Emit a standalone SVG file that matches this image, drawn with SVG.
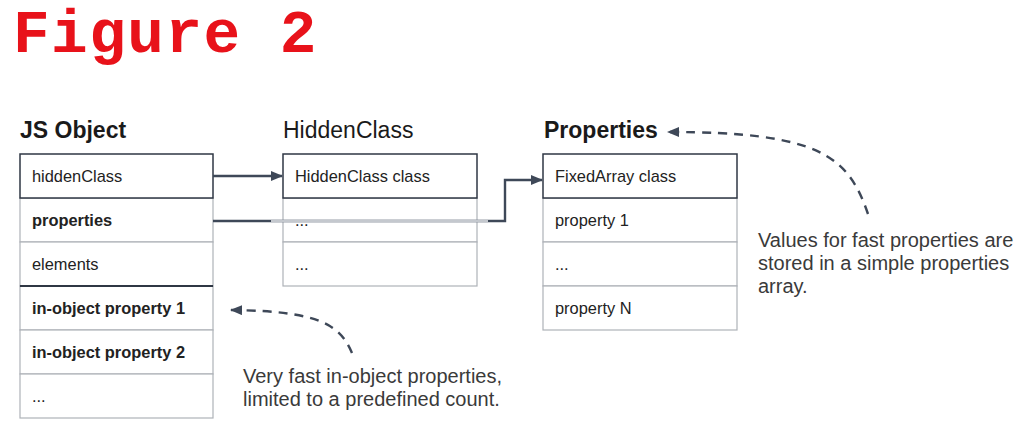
<svg xmlns="http://www.w3.org/2000/svg" width="1034" height="430" viewBox="0 0 1034 430">
<style>
.title{font-family:"Liberation Mono","Courier New",monospace;font-weight:bold;font-size:61px;letter-spacing:1.5px;fill:#e8121a}
.head{font-family:"Liberation Sans",Arial,sans-serif;font-size:23px;fill:#1a1a1a}
.b{font-weight:bold}
.cell{font-family:"Liberation Sans",Arial,sans-serif;font-size:16.4px;fill:#222}
.note{font-family:"Liberation Sans",Arial,sans-serif;font-size:20px;fill:#3a3a3a}
.lt{fill:#fff;stroke:#aeb2b8;stroke-width:1.2}
.dk{fill:#fff;stroke:#2f3744;stroke-width:1.5}
.dkl{stroke:#2f3744;stroke-width:1.8}
.conn{fill:none;stroke:#3e4858;stroke-width:2.4}
.dash{fill:none;stroke:#3e4858;stroke-width:2.4;stroke-dasharray:9 7}
</style>
<defs>
<marker id="ah" viewBox="0 0 12 10" refX="11" refY="5" markerWidth="12" markerHeight="10" markerUnits="userSpaceOnUse" orient="auto">
<path d="M0,0 L12,5 L0,10 Z" fill="#3e4858"/>
</marker>
</defs>
<rect width="1034" height="430" fill="#fff"/>
<text class="title" x="13" y="52">Figure 2</text>

<g id="js-object">
<text class="head b" x="20" y="138">JS Object</text>
<rect class="lt" x="20" y="198" width="193" height="44"/>
<rect class="lt" x="20" y="242" width="193" height="44"/>
<rect class="lt" x="20" y="286" width="193" height="44"/>
<rect class="lt" x="20" y="330" width="193" height="44"/>
<rect class="lt" x="20" y="374" width="193" height="44"/>
<line class="dkl" x1="20" y1="286" x2="213" y2="286"/>
<rect class="dk" x="20" y="154" width="193" height="44"/>
<text class="cell" x="32" y="182">hiddenClass</text>
<text class="cell b" x="32" y="226">properties</text>
<text class="cell" x="32" y="270">elements</text>
<text class="cell b" x="32" y="314">in-object property 1</text>
<text class="cell b" x="32" y="358">in-object property 2</text>
<text class="cell" x="32" y="402">...</text>
</g>

<g id="hidden-class">
<text class="head" x="283" y="138">HiddenClass</text>
<rect class="lt" x="283" y="198" width="194" height="44"/>
<rect class="lt" x="283" y="242" width="194" height="44"/>
<rect class="dk" x="283" y="154" width="194" height="44"/>
<text class="cell" x="295" y="182">HiddenClass class</text>
<text class="cell" x="295" y="226">...</text>
<text class="cell" x="295" y="270">...</text>
</g>

<g id="properties">
<text class="head b" x="544" y="138">Properties</text>
<rect class="lt" x="543" y="198" width="194" height="44"/>
<rect class="lt" x="543" y="242" width="194" height="44"/>
<rect class="lt" x="543" y="286" width="194" height="44"/>
<rect class="dk" x="543" y="154" width="194" height="44"/>
<text class="cell" x="555" y="182">FixedArray class</text>
<text class="cell" x="555" y="226">property 1</text>
<text class="cell" x="555" y="270">...</text>
<text class="cell" x="555" y="314">property N</text>
</g>

<g id="note-fast">
<text class="note" x="758" y="247">Values for fast properties are</text>
<text class="note" x="758" y="270">stored in a simple properties</text>
<text class="note" x="758" y="293">array.</text>
</g>

<g id="note-inobject">
<text class="note" x="243" y="383">Very fast in-object properties,</text>
<text class="note" x="243" y="406">limited to a predefined count.</text>
</g>

<g id="connectors">
<path class="conn" d="M213,176 H282" marker-end="url(#ah)"/>
<path class="conn" d="M213,221 H505 V180 H542" marker-end="url(#ah)"/>
<line x1="271" y1="221" x2="488" y2="221" stroke="#c4c8ce" stroke-width="2.6"/>
<path class="dash" d="M868,214 C848,155 818,132 668,132" marker-end="url(#ah)"/>
<path class="dash" d="M352,353 C340,325 320,311 231,310" marker-end="url(#ah)"/>
</g>
</svg>
